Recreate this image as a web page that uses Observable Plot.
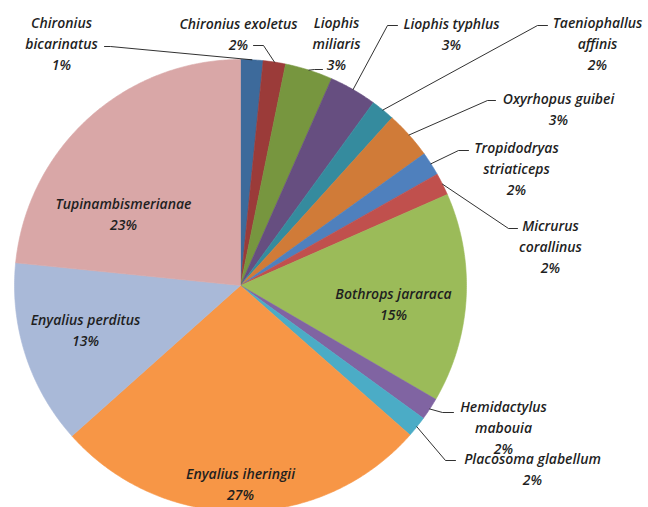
<!DOCTYPE html>
<html>
<head>
<meta charset="utf-8">
<script src="https://cdn.jsdelivr.net/npm/d3@7"></script>
<script src="https://cdn.jsdelivr.net/npm/@observablehq/plot@0.6"></script>
<style>
  html, body { margin: 0; padding: 0; background: #fff; }
  #chart { width: 648px; height: 507px; overflow: hidden; }
</style>
</head>
<body>
<div id="chart"></div>
<script>
// ---- data ----
const names = [
  "Chironius bicarinatus", "Chironius exoletus", "Liophis miliaris", "Liophis typhlus",
  "Taeniophallus affinis", "Oxyrhopus guibei", "Tropidodryas striaticeps", "Micrurus corallinus",
  "Bothrops jararaca", "Hemidactylus mabouia", "Placosoma glabellum", "Enyalius iheringii",
  "Enyalius perditus", "Tupinambismerianae"
];
const values = [1.6, 1.6, 3.4, 3.4, 1.7, 3.4, 1.7, 1.6, 15.0, 1.6, 1.5, 26.9, 13.2, 23.4];
const pctLabels = ["1%", "2%", "3%", "3%", "2%", "3%", "2%", "2%", "15%", "2%", "2%", "27%", "13%", "23%"];
const colors = [
  "#3d6a9b", "#9b3b39", "#77963f", "#664e80", "#358b9e", "#d07b38", "#4f80bd",
  "#c0504d", "#9bbb59", "#8064a2", "#4bacc6", "#f79646", "#a9b9d8", "#d9a7a7"
];

// ---- layout (pixels in the 648x507 frame) ----
const W = 648, H = 507, CX = 240, CY = 285, R = 226;
const wrapName = [true, false, true, false, true, false, true, true, false, true, false, false, false, false];
const labelPos = [
  [61, 42], [238, 32], [336, 42], [451, 32], [597, 42], [558, 107], [516, 167],
  [550, 245], [393, 302], [503, 426], [532, 467], [240, 482], [85, 328], [123, 212]
];
// leader elbow points (text side), null = no leader
const leaderPts = [
  [[104, 46], [110, 46]], [[253, 45], [263, 45]], [[322, 69], [314, 69]], [[397, 25], [387, 25]],
  [[547, 25], [537, 25]], [[495, 100], [487, 100]], [[468, 150], [458, 150]], [[517, 228], [508, 228]],
  null, [[453, 412], [442, 412]], [[455, 460], [445, 460]], null, null, null
];

const ux = px => (px - CX) / R;
const uy = py => (CY - py) / R;

// ---- geometry ----
const total = d3.sum(values);
let acc = 0;
const slices = values.map((v, i) => {
  const a0 = acc / total * 2 * Math.PI;
  acc += v;
  const a1 = acc / total * 2 * Math.PI;
  return {name: names[i], a0, a1, mid: (a0 + a1) / 2};
});

const slicePoints = [];
for (const s of slices) {
  slicePoints.push({name: s.name, x: 0, y: 0});
  const n = Math.max(2, Math.ceil((s.a1 - s.a0) / (Math.PI / 360)));
  for (let k = 0; k <= n; k++) {
    const a = s.a0 + (s.a1 - s.a0) * k / n;
    slicePoints.push({name: s.name, x: Math.sin(a), y: Math.cos(a)});
  }
  slicePoints.push({name: s.name, x: 0, y: 0});
}

const leaderData = [];
slices.forEach((s, i) => {
  const lp = leaderPts[i];
  if (!lp) return;
  for (const [px, py] of lp) leaderData.push({name: s.name, x: ux(px), y: uy(py)});
  leaderData.push({name: s.name, x: Math.sin(s.mid), y: Math.cos(s.mid)});
});

const labels = slices.map((s, i) => ({
  name: s.name,
  text: (wrapName[i] ? names[i].replace(" ", "\n") : names[i]) + "\n" + pctLabels[i],
  x: ux(labelPos[i][0]),
  y: uy(labelPos[i][1])
}));

const chart = Plot.plot({
  width: W,
  height: H,
  margin: 0,
  x: {domain: [ux(0), ux(W)], range: [0, W], axis: null},
  y: {domain: [uy(H), uy(0)], range: [H, 0], axis: null},
  color: {domain: names, range: colors},
  style: {background: "#fff"},
  marks: [
    Plot.line(slicePoints, {x: "x", y: "y", z: "name", fill: "name", stroke: "name", strokeWidth: 0.6, curve: "linear"}),
    Plot.line(leaderData, {x: "x", y: "y", z: "name", stroke: "#1a1a1a", strokeWidth: 0.9, curve: "linear"}),
    Plot.text(labels, {
      x: "x", y: "y", text: "text",
      fontSize: 14, fontStyle: "italic", fontWeight: 600, fontFamily: "Open Sans", lineHeight: 1.5,
      fill: "#1f1f1f", textAnchor: "middle", lineAnchor: "middle"
    })
  ]
});
document.getElementById("chart").appendChild(chart);
</script>
</body>
</html>
